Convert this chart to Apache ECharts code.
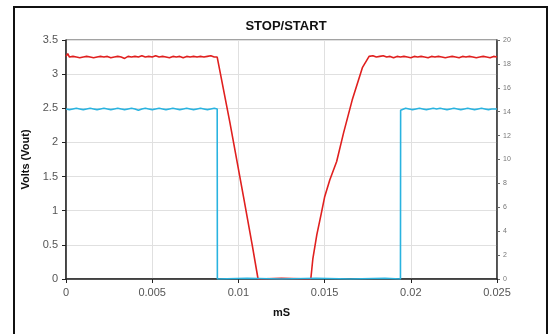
<!DOCTYPE html>
<html><head><meta charset="utf-8">
<script src="https://cdn.jsdelivr.net/npm/echarts@6/dist/echarts.min.js"></script>
<style>html,body{margin:0;padding:0;background:#fff}#c{width:557px;height:334px}</style>
</head><body><div id="c"></div>
<script>
const title = "STOP/START";
const xName = "mS";
const yName = "Volts (Vout)";
const xTicks = [0, 0.005, 0.01, 0.015, 0.02, 0.025];
const redSeries = [
[0,3.26],[0.0001,3.3],[0.0002,3.25],[0.0004,3.26],[0.0006,3.25],[0.0008,3.24],[0.001,3.25],[0.0012,3.26],
[0.0014,3.25],[0.0016,3.24],[0.0018,3.25],[0.002,3.26],[0.0022,3.25],[0.0024,3.26],[0.0026,3.24],[0.0028,3.25],
[0.003,3.26],[0.0032,3.25],[0.0034,3.23],[0.0036,3.26],[0.0038,3.25],[0.004,3.26],[0.0042,3.25],[0.0044,3.27],
[0.0046,3.25],[0.0048,3.26],[0.005,3.25],[0.0052,3.27],[0.0054,3.25],[0.0056,3.26],[0.0058,3.25],[0.006,3.24],
[0.0062,3.26],[0.0064,3.25],[0.0066,3.26],[0.0068,3.24],[0.007,3.26],[0.0072,3.25],[0.0074,3.26],[0.0076,3.25],
[0.0078,3.26],[0.008,3.25],[0.0082,3.26],[0.0084,3.27],[0.0086,3.25],[0.00877,3.25],
[0.0095,2.3],[0.0103,1.2],[0.0108,0.5],[0.01114,0],[0.0125,0.01],[0.0142,0],
[0.01432,0.3],[0.01455,0.65],[0.0148,0.95],[0.015,1.2],[0.0153,1.45],[0.0157,1.72],[0.0161,2.14],[0.0166,2.62],
[0.0172,3.1],[0.01758,3.26],[0.0178,3.27],[0.018,3.25],[0.0182,3.26],[0.0184,3.27],[0.0186,3.25],[0.0188,3.26],
[0.019,3.24],[0.0192,3.26],[0.0194,3.25],[0.0196,3.26],[0.0198,3.25],[0.02,3.24],[0.0202,3.26],[0.0204,3.25],
[0.0206,3.26],[0.0208,3.25],[0.021,3.24],[0.0212,3.26],[0.0214,3.25],[0.0216,3.26],[0.0218,3.25],[0.022,3.24],
[0.0222,3.25],[0.0224,3.26],[0.0226,3.25],[0.0228,3.24],[0.023,3.26],[0.0232,3.25],[0.0234,3.26],[0.0236,3.25],
[0.0238,3.24],[0.024,3.25],[0.0242,3.26],[0.0244,3.25],[0.0246,3.24],[0.0248,3.26],[0.025,3.25]
];
const blueSeries = [
[0,2.49],[0.0002,2.48],[0.0004,2.49],[0.0006,2.5],[0.0008,2.49],[0.001,2.48],[0.0012,2.49],[0.0014,2.5],
[0.0016,2.49],[0.0018,2.48],[0.002,2.49],[0.0022,2.5],[0.0024,2.49],[0.0026,2.48],[0.0028,2.49],[0.003,2.5],
[0.0032,2.49],[0.0034,2.48],[0.0036,2.49],[0.0038,2.5],[0.004,2.49],[0.0042,2.47],[0.0044,2.49],[0.0046,2.5],
[0.0048,2.49],[0.005,2.48],[0.0052,2.49],[0.0054,2.5],[0.0056,2.49],[0.0058,2.48],[0.006,2.49],[0.0062,2.5],
[0.0064,2.49],[0.0066,2.48],[0.0068,2.49],[0.007,2.5],[0.0072,2.49],[0.0074,2.48],[0.0076,2.49],[0.0078,2.5],
[0.008,2.49],[0.0082,2.48],[0.0084,2.49],[0.0086,2.5],[0.00877,2.49],[0.00878,0],
[0.0105,0.01],[0.0125,0],[0.0145,0.01],[0.0165,0],[0.0185,0.01],[0.0194,0],[0.01941,2.47],[0.0195,2.49],
[0.0197,2.5],[0.0199,2.49],[0.0201,2.48],[0.0203,2.49],[0.0205,2.5],[0.0207,2.49],[0.0209,2.48],[0.0211,2.49],
[0.0213,2.5],[0.0215,2.49],[0.0217,2.5],[0.0219,2.49],[0.0221,2.48],[0.0223,2.49],[0.0225,2.5],[0.0227,2.49],
[0.0229,2.48],[0.0231,2.49],[0.0233,2.5],[0.0235,2.49],[0.0237,2.48],[0.0239,2.49],[0.0241,2.5],[0.0243,2.49],
[0.0245,2.48],[0.0247,2.49],[0.025,2.49]
];
const chart = echarts.init(document.getElementById('c'), null, {renderer:'canvas'});
const font = 'Liberation Sans, Arial, sans-serif';
chart.setOption({
  animation:false,
  backgroundColor:'#fff',
  title:{text:title,left:281,top:15,textAlign:'center',textStyle:{fontFamily:font,fontSize:13,fontWeight:'bold',color:'#111'}},
  graphic:[{type:'rect',shape:{x:14,y:7,width:533,height:340},style:{fill:'none',stroke:'#111',lineWidth:2},silent:true}],
  grid:{left:66,right:60,top:40,bottom:55,show:true,borderColor:'#444',borderWidth:1},
  xAxis:{type:'value',min:0,max:0.025,interval:0.005,name:xName,nameLocation:'middle',nameGap:28,
    nameTextStyle:{fontFamily:font,fontSize:11,fontWeight:'bold',color:'#111'},
    axisLine:{lineStyle:{color:'#222',width:1.5}},axisTick:{show:true,length:4,lineStyle:{color:'#222'}},
    axisLabel:{fontFamily:font,fontSize:11,color:'#555',margin:8,formatter:v=>String(+v.toFixed(3))},
    splitLine:{show:true,lineStyle:{color:'#e0e0e0'}}},
  yAxis:[
    {type:'value',min:0,max:3.5,interval:0.5,name:yName,nameLocation:'middle',nameGap:32,
     nameTextStyle:{fontFamily:font,fontSize:11,fontWeight:'bold',color:'#111'},
     axisLine:{show:true,lineStyle:{color:'#222',width:1.5}},axisTick:{show:true,length:4,lineStyle:{color:'#222'}},
     axisLabel:{fontFamily:font,fontSize:11,color:'#555',margin:8},
     splitLine:{show:true,lineStyle:{color:'#e0e0e0'}}},
    {type:'value',min:0,max:20,interval:2,position:'right',
     axisLine:{show:true,lineStyle:{color:'#333',width:1.5}},axisTick:{show:true,length:3,lineStyle:{color:'#666'}},
     axisLabel:{fontFamily:font,fontSize:7,color:'#777',margin:6},splitLine:{show:false}}
  ],
  series:[
    {type:'line',data:redSeries,showSymbol:false,lineStyle:{color:'#e0201f',width:1.6},itemStyle:{color:'#e0201f'}},
    {type:'line',data:blueSeries,showSymbol:false,lineStyle:{color:'#29b3e0',width:1.6},itemStyle:{color:'#29b3e0'}}
  ]
});
</script></body></html>
